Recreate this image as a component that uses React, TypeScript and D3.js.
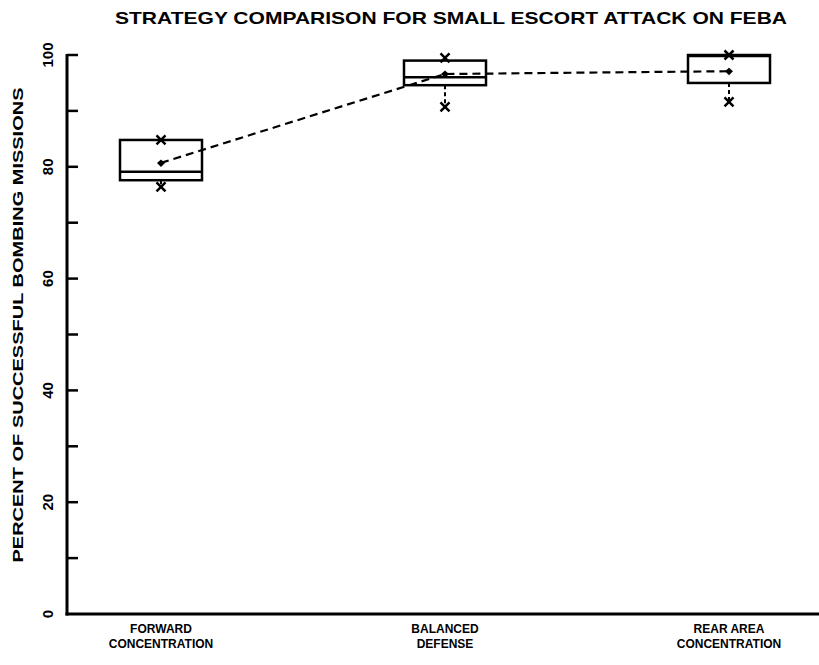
import React from "react";
import * as d3 from "d3";

const categories = ["FORWARD|CONCENTRATION", "BALANCED|DEFENSE", "REAR AREA|CONCENTRATION"];
const q1Values = [77.6, 94.6, 95.0];
const medianValues = [79.1, 96.0, 99.8];
const q3Values = [84.8, 99.0, 100];
const meanValues = [80.7, 96.6, 97.1];
const minValues = [76.4, 90.7, 91.6];
const maxValues = [84.8, 99.5, 100];
const yTickLabels = [0, 20, 40, 60, 80, 100];
const yMinorTicks = [10, 20, 30, 40, 50, 60, 70, 80, 90, 100];

const W = 819;
const H = 665;

export default function App() {
  const y = d3.scaleLinear().domain([0, 100]).range([614, 55]);
  const x = d3.scalePoint<string>().domain(categories).range([161, 729]);
  const axisX = 67;
  const boxW = 82;
  const font = "'Liberation Sans', Arial, sans-serif";

  const meanLine = d3
    .line<number>()
    .x((_, i) => x(categories[i]) as number)
    .y((d) => y(d))(meanValues) as string;

  const xMark = (cx: number, cy: number, s: number) =>
    `M${cx - s},${cy - s}L${cx + s},${cy + s}M${cx - s},${cy + s}L${cx + s},${cy - s}`;

  return (
    <svg
      width={W}
      height={H}
      style={{ position: "absolute", left: 0, top: 0, display: "block", background: "#fff" }}
    >
      <text
        x={115}
        y={24}
        fontFamily={font}
        fontWeight="bold"
        fontSize={17}
        textLength={672}
        lengthAdjust="spacingAndGlyphs"
        fill="#000"
      >
        STRATEGY COMPARISON FOR SMALL ESCORT ATTACK ON FEBA
      </text>

      {/* Y axis title */}
      <text
        transform={`translate(23,${325}) rotate(-90)`}
        textAnchor="middle"
        fontFamily={font}
        fontWeight="bold"
        fontSize={15}
        textLength={475}
        lengthAdjust="spacingAndGlyphs"
        fill="#000"
      >
        PERCENT OF SUCCESSFUL BOMBING MISSIONS
      </text>

      {/* axes */}
      <line x1={axisX} x2={axisX} y1={y(100) - 1} y2={y(0) + 1.5} stroke="#000" strokeWidth={3} />
      <line x1={axisX - 1.5} x2={W} y1={y(0)} y2={y(0)} stroke="#000" strokeWidth={3} />
      {yMinorTicks.map((t) => (
        <line
          key={t}
          x1={axisX}
          x2={axisX + 11}
          y1={y(t)}
          y2={y(t)}
          stroke="#000"
          strokeWidth={2.5}
        />
      ))}
      {yTickLabels.map((t) => (
        <text
          key={t}
          transform={`translate(53,${y(t)}) rotate(-90)`}
          textAnchor="middle"
          fontFamily={font}
          fontWeight="bold"
          fontSize={15}
          fill="#000"
        >
          {t}
        </text>
      ))}

      {/* x labels */}
      {categories.map((c) => {
        const [l1, l2] = c.split("|");
        const cx = x(c) as number;
        return (
          <g key={c} fontFamily={font} fontWeight="bold" fontSize={12} fill="#000" textAnchor="middle">
            <text x={cx} y={633}>{l1}</text>
            <text x={cx} y={648}>{l2}</text>
          </g>
        );
      })}

      {/* boxes */}
      {categories.map((c, i) => {
        const cx = x(c) as number;
        return (
          <g key={c}>
            <line
              x1={cx}
              x2={cx}
              y1={y(q1Values[i])}
              y2={y(minValues[i])}
              stroke="#000"
              strokeWidth={2}
              strokeDasharray="4,3"
            />
            <rect
              x={cx - boxW / 2}
              y={y(q3Values[i])}
              width={boxW}
              height={y(q1Values[i]) - y(q3Values[i])}
              fill="none"
              stroke="#000"
              strokeWidth={2.5}
            />
            <line
              x1={cx - boxW / 2}
              x2={cx + boxW / 2}
              y1={y(medianValues[i])}
              y2={y(medianValues[i])}
              stroke="#000"
              strokeWidth={2.5}
            />
            <path d={xMark(cx, y(minValues[i]), 4.5)} stroke="#000" strokeWidth={2.5} />
            <path d={xMark(cx, y(maxValues[i]), 4.5)} stroke="#000" strokeWidth={2.5} />
          </g>
        );
      })}

      {/* mean line */}
      <path d={meanLine} fill="none" stroke="#000" strokeWidth={2.2} strokeDasharray="8,5" />
      {categories.map((c, i) => {
        const cx = x(c) as number;
        const cy = y(meanValues[i]);
        return (
          <path
            key={c}
            d={`M${cx - 4},${cy}L${cx},${cy - 3.5}L${cx + 4},${cy}L${cx},${cy + 4}Z`}
            fill="#000"
          />
        );
      })}
    </svg>
  );
}
